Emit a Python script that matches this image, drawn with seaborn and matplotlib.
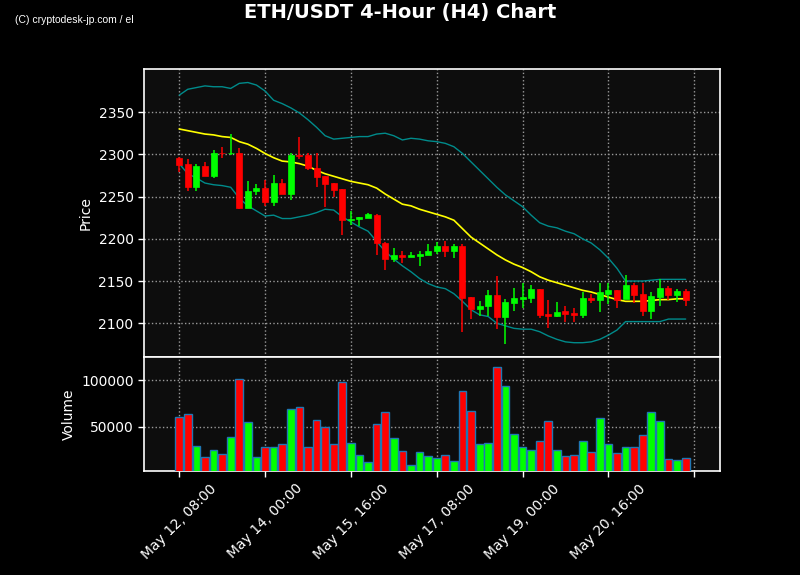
import numpy as np
import pandas as pd
import matplotlib
matplotlib.use('Agg')
import matplotlib.pyplot as plt
import seaborn as sns

# 4-hour candles, May 12 08:00 onwards
opens = [2296, 2288, 2261, 2286, 2274, 2302, 2301, 2302, 2237, 2257,
         2260, 2243, 2266, 2253, 2299, 2299, 2284, 2274, 2266, 2259,
         2222, 2224, 2225, 2228, 2195, 2176, 2181, 2179, 2180, 2181,
         2186, 2192, 2186, 2192, 2131, 2117, 2120, 2134, 2107, 2124,
         2129, 2130, 2140, 2111, 2109, 2114, 2112, 2110, 2130, 2128,
         2135, 2139, 2129, 2145, 2135, 2115, 2131, 2142, 2133, 2138]
highs = [2297, 2294, 2288, 2291, 2305, 2309, 2324, 2308, 2268, 2265,
         2270, 2276, 2271, 2301, 2320, 2301, 2301, 2274, 2266, 2259,
         2233, 2226, 2231, 2229, 2196, 2189, 2185, 2184, 2185, 2194,
         2196, 2197, 2194, 2194, 2131, 2126, 2139, 2156, 2129, 2142,
         2148, 2145, 2140, 2128, 2125, 2120, 2118, 2137, 2135, 2148,
         2148, 2139, 2157, 2148, 2148, 2137, 2153, 2144, 2141, 2141]
lows = [2279, 2257, 2257, 2274, 2272, 2296, 2299, 2235, 2236, 2252,
        2239, 2239, 2253, 2246, 2294, 2281, 2261, 2238, 2250, 2205,
        2216, 2215, 2225, 2181, 2163, 2172, 2171, 2179, 2168, 2181,
        2182, 2178, 2177, 2090, 2105, 2109, 2109, 2093, 2076, 2115,
        2118, 2124, 2106, 2094, 2107, 2101, 2102, 2106, 2124, 2113,
        2123, 2118, 2129, 2124, 2109, 2105, 2121, 2128, 2125, 2121]
closes = [2287, 2261, 2286, 2274, 2302, 2301, 2302, 2237, 2257, 2260,
          2243, 2266, 2253, 2299, 2298, 2284, 2273, 2265, 2258, 2222,
          2224, 2226, 2229, 2195, 2176, 2181, 2179, 2181, 2182, 2186,
          2192, 2186, 2192, 2130, 2117, 2120, 2133, 2107, 2125, 2130,
          2131, 2140, 2110, 2109, 2113, 2111, 2110, 2130, 2128, 2137,
          2139, 2128, 2145, 2133, 2115, 2132, 2142, 2133, 2138, 2127]
volumes = [60600, 63800, 29800, 17000, 25500, 20200, 39400, 101000, 55300, 17000,
           28700, 28700, 30900, 69100, 71300, 28700, 57400, 50000, 30900, 97900,
           33000, 19100, 11700, 53200, 66000, 38300, 23400, 8500, 22300, 18100,
           16000, 19100, 12800, 88300, 67000, 31900, 33000, 113800, 93600, 42600,
           28700, 24500, 35100, 56400, 24500, 18100, 19100, 35100, 22300, 59600,
           31900, 21300, 27700, 27700, 41500, 66000, 56400, 14900, 13800, 16000]

# Bollinger bands (20 period)
bb_upper = [2370, 2377, 2379, 2381, 2380, 2380, 2378, 2384, 2385, 2382,
            2375, 2364, 2360, 2355, 2349, 2341, 2332, 2322, 2318, 2319,
            2320, 2321, 2321, 2324, 2325, 2322, 2317, 2319, 2318, 2316,
            2315, 2313, 2309, 2301, 2291, 2281, 2271, 2261, 2252, 2245,
            2238, 2228, 2219, 2215, 2213, 2209, 2206, 2200, 2195, 2187,
            2177, 2165, 2150, 2150, 2150, 2151, 2152, 2152, 2152, 2152]
bb_mid = [2330, 2328, 2326, 2324, 2323, 2321, 2320, 2315, 2312, 2307,
          2301, 2296, 2292, 2291, 2289, 2286, 2281, 2277, 2274, 2271,
          2268, 2266, 2264, 2260, 2253, 2247, 2241, 2239, 2235, 2232,
          2229, 2226, 2222, 2212, 2202, 2195, 2188, 2181, 2175, 2170,
          2166, 2161, 2155, 2151, 2148, 2145, 2142, 2139, 2137, 2134,
          2131, 2128, 2126, 2126, 2126, 2127, 2128, 2128, 2129, 2129]
bb_lower = [2289, 2277, 2272, 2266, 2264, 2263, 2261, 2248, 2239, 2233,
            2227, 2228, 2224, 2224, 2226, 2228, 2231, 2235, 2234, 2226,
            2220, 2214, 2209, 2197, 2185, 2176, 2168, 2161, 2153, 2147,
            2143, 2141, 2135, 2126, 2116, 2110, 2108, 2100, 2097, 2094,
            2093, 2093, 2090, 2085, 2081, 2078, 2077, 2077, 2078, 2081,
            2086, 2092, 2102, 2102, 2102, 2102, 2102, 2105, 2105, 2105]

tick_labels = ['May 12, 08:00', 'May 14, 00:00', 'May 15, 16:00',
               'May 17, 08:00', 'May 19, 00:00', 'May 20, 16:00', '']

df = pd.DataFrame({'Open': opens, 'High': highs, 'Low': lows,
                   'Close': closes, 'Volume': volumes})
df['idx'] = np.arange(len(df))
df['dir'] = np.where(df['Close'] >= df['Open'], 'up', 'down')
colors = {'up': '#00ff00', 'down': '#ff0000'}

sns.set_theme(style='dark')
plt.rcParams['font.family'] = ['DejaVu Sans']

fig = plt.figure(figsize=(8, 5.75), dpi=100, facecolor='black')
ax = fig.add_axes([0.18, 0.379, 0.72, 0.501])
axv = fig.add_axes([0.18, 0.181, 0.72, 0.198], sharex=ax)

for a in (ax, axv):
    a.set_facecolor('#0d0d0d')
    for s in a.spines.values():
        s.set_color('white')
        s.set_linewidth(1.2)
    a.tick_params(colors='white', labelsize=10, length=4, width=1,
                  left=True, bottom=True)
    a.grid(True, color='#9a9a9a', linestyle=':', linewidth=1)

# wicks and bodies
cc = df['dir'].map(colors)
ax.vlines(df['idx'], df['Low'], df['High'], colors=cc, linewidth=1.1, zorder=3)
body_bot = df[['Open', 'Close']].min(axis=1)
body_h = (df['Close'] - df['Open']).abs().clip(lower=0.8)
ax.bar(df['idx'], body_h, bottom=body_bot, width=0.7, color=cc,
       edgecolor=cc, linewidth=0.5, zorder=4)

# bollinger bands
sns.lineplot(x=df['idx'], y=bb_upper, ax=ax, color='#008b8b', linewidth=1, zorder=2)
sns.lineplot(x=df['idx'], y=bb_mid, ax=ax, color='#ffff00', linewidth=1.2, zorder=2)
sns.lineplot(x=df['idx'], y=bb_lower, ax=ax, color='#008b8b', linewidth=1, zorder=2)

ax.set_ylim(2060, 2401)
ax.set_yticks([2100, 2150, 2200, 2250, 2300, 2350])
ax.set_ylabel('Price', color='white', fontsize=10)
ax.set_xlabel('')
ax.tick_params(axis='x', labelbottom=False)

# volume
axv.bar(df['idx'], df['Volume'], width=0.9, color=cc,
        edgecolor='#1f77b4', linewidth=1, zorder=3)
axv.set_ylim(2500, 124800)
axv.set_yticks([50000, 100000])
axv.set_yticklabels(['50000', '100000'])
axv.set_ylabel('Volume', color='white', fontsize=10)

axv.set_xticks(np.arange(0, 61, 10))
axv.set_xticklabels(tick_labels, rotation=45)
axv.set_xlim(-4.1, 63)

fig.suptitle('ETH/USDT 4-Hour (H4) Chart', color='white', fontsize=14,
             fontweight='bold', y=0.995)
fig.text(0.019, 0.96, '(C) cryptodesk-jp.com / el', color='white', fontsize=7.5,
         family=['Liberation Sans Narrow', 'Liberation Sans'])

fig.savefig('out.png', dpi=100, facecolor='black')
